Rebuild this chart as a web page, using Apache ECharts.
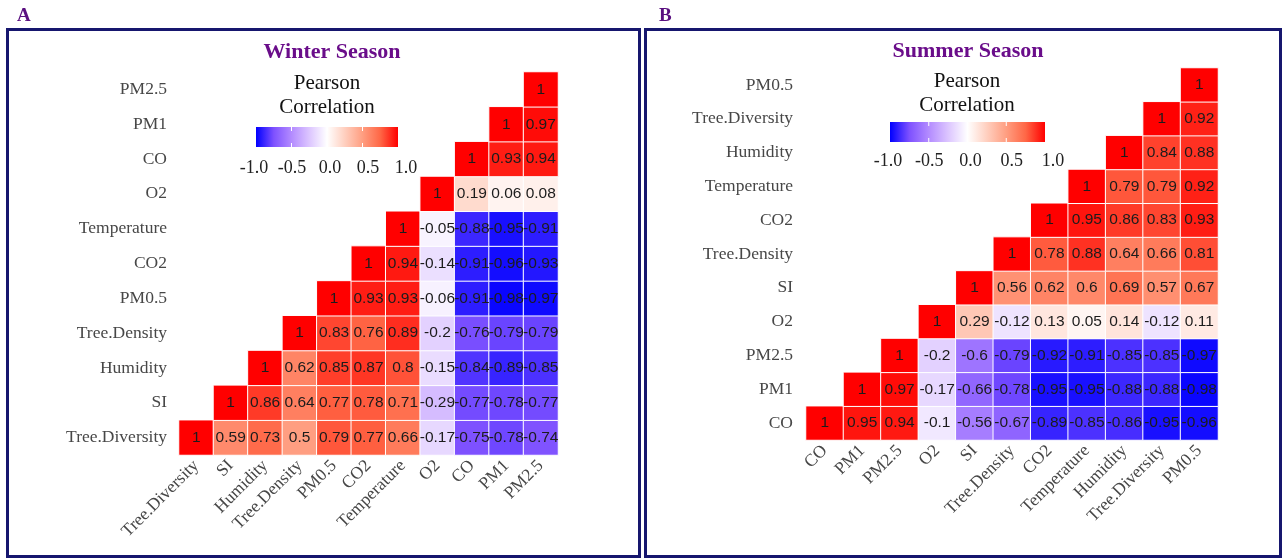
<!DOCTYPE html>
<html>
<head>
<meta charset="utf-8">
<script src="https://cdn.jsdelivr.net/npm/echarts@6/dist/echarts.min.js"></script>
<style>
  html, body { margin: 0; padding: 0; background: #fff; }
  #chart { width: 1285px; height: 560px; }
</style>
</head>
<body>
<div id="chart"></div>
<script>
// ---- data ----
// axis order, left to right on x and bottom to top on y
var winterVars = ['Tree.Diversity', 'SI', 'Humidity', 'Tree.Density', 'PM0.5', 'CO2',
  'Temperature', 'O2', 'CO', 'PM1', 'PM2.5']
// each row starts at its own diagonal cell
var winterRows = [
  [1, 0.59, 0.73, 0.5, 0.79, 0.77, 0.66, -0.17, -0.75, -0.78, -0.74],
  [1, 0.86, 0.64, 0.77, 0.78, 0.71, -0.29, -0.77, -0.78, -0.77],
  [1, 0.62, 0.85, 0.87, 0.8, -0.15, -0.84, -0.89, -0.85],
  [1, 0.83, 0.76, 0.89, -0.2, -0.76, -0.79, -0.79],
  [1, 0.93, 0.93, -0.06, -0.91, -0.98, -0.97],
  [1, 0.94, -0.14, -0.91, -0.96, -0.93],
  [1, -0.05, -0.88, -0.95, -0.91],
  [1, 0.19, 0.06, 0.08],
  [1, 0.93, 0.94],
  [1, 0.97],
  [1]
]

var summerVars = ['CO', 'PM1', 'PM2.5', 'O2', 'SI', 'Tree.Density', 'CO2', 'Temperature',
  'Humidity', 'Tree.Diversity', 'PM0.5']
var summerRows = [
  [1, 0.95, 0.94, -0.1, -0.56, -0.67, -0.89, -0.85, -0.86, -0.95, -0.96],
  [1, 0.97, -0.17, -0.66, -0.78, -0.95, -0.95, -0.88, -0.88, -0.98],
  [1, -0.2, -0.6, -0.79, -0.92, -0.91, -0.85, -0.85, -0.97],
  [1, 0.29, -0.12, 0.13, 0.05, 0.14, -0.12, 0.11],
  [1, 0.56, 0.62, 0.6, 0.69, 0.57, 0.67],
  [1, 0.78, 0.88, 0.64, 0.66, 0.81],
  [1, 0.95, 0.86, 0.83, 0.93],
  [1, 0.79, 0.79, 0.92],
  [1, 0.84, 0.88],
  [1, 0.92],
  [1]
]

var legendTicks = [-1, -0.5, 0, 0.5, 1]

// blue - white - red, mixed in Lab like ggplot's gradient2
var corrColors = ['#0000FF', '#7E51FF', '#B38BFF', '#DCC5FF', '#FFFFFF',
  '#FFCFBF', '#FF9E81', '#FF6746', '#FF0000']

var serif = "'Liberation Serif', 'Times New Roman', serif"
var sans = "'Liberation Sans', Arial, sans-serif"

function toCells(rows) {
  var out = []
  rows.forEach(function(row, y) {
    row.forEach(function(v, k) {
      out.push([y + k, y, v])
    })
  })
  return out
}

function axisPair(vars, gridIndex, yMargin) {
  var label = { fontFamily: serif, fontSize: 17.5, color: '#474747' }
  return {
    x: {
      type: 'category', data: vars, gridIndex: gridIndex,
      axisLine: { show: false }, axisTick: { show: false }, splitLine: { show: false },
      axisLabel: Object.assign({ rotate: 45, margin: 8, interval: 0 }, label)
    },
    y: {
      type: 'category', data: vars, gridIndex: gridIndex,
      axisLine: { show: false }, axisTick: { show: false }, splitLine: { show: false },
      axisLabel: Object.assign({ margin: yMargin, interval: 0 }, label)
    }
  }
}

function heatSeries(rows, idx) {
  return {
    type: 'heatmap',
    xAxisIndex: idx, yAxisIndex: idx,
    data: toCells(rows),
    itemStyle: { borderColor: '#ffffff', borderWidth: 1 },
    label: {
      show: true, fontFamily: sans, fontSize: 15.5, color: '#1c1c1c',
      formatter: function(p) { return p.value[2] }
    },
    emphasis: { disabled: true }
  }
}

// colour bar legend: gradient bar, white ticks and labels
function colorBar(cx, titleY, x0, y0, w, h, labelY) {
  var els = []
  els.push({
    type: 'text', x: cx, y: titleY,
    style: { text: 'Pearson\nCorrelation', font: '21px ' + serif, fill: '#111',
      textAlign: 'center', lineHeight: 24 }
  })
  els.push({
    type: 'rect', shape: { x: x0, y: y0, width: w, height: h },
    style: { fill: new echarts.graphic.LinearGradient(0, 0, 1, 0,
      corrColors.map(function(c, i) { return { offset: i / (corrColors.length - 1), color: c } })) }
  })
  legendTicks.forEach(function(t) {
    var x = x0 + (t + 1) / 2 * w
    if (t > -1 && t < 1) {
      els.push({ type: 'line', shape: { x1: x, y1: y0, x2: x, y2: y0 + 4 }, style: { stroke: '#fff', lineWidth: 1 } })
      els.push({ type: 'line', shape: { x1: x, y1: y0 + h - 4, x2: x, y2: y0 + h }, style: { stroke: '#fff', lineWidth: 1 } })
    }
    els.push({
      type: 'text', x: x + 3 + t * 5, y: labelY,
      style: { text: t.toFixed(1), font: '18px ' + serif, fill: '#222',
        textAlign: 'center', textVerticalAlign: 'middle' }
    })
  })
  return els
}

var chart = echarts.init(document.getElementById('chart'))
var ax0 = axisPair(winterVars, 0, 12)
var ax1 = axisPair(summerVars, 1, 13)

var graphics = [
  { type: 'rect', shape: { x: 7.5, y: 29.5, width: 632, height: 527 },
    style: { fill: 'none', stroke: '#16166e', lineWidth: 3 } },
  { type: 'rect', shape: { x: 645.5, y: 29.5, width: 635, height: 527 },
    style: { fill: 'none', stroke: '#16166e', lineWidth: 3 } }
]
graphics = graphics.concat(colorBar(327, 71, 256, 127, 142, 20, 168))
graphics = graphics.concat(colorBar(967, 69, 890, 122, 155, 20, 161))

chart.setOption({
  animation: false,
  title: [
    { text: 'A', left: 12, top: 2, textStyle: { fontFamily: serif, fontSize: 19, fontWeight: 'bold', color: '#5a1080' } },
    { text: 'B', left: 654, top: 2, textStyle: { fontFamily: serif, fontSize: 19, fontWeight: 'bold', color: '#5a1080' } },
    { text: 'Winter Season', left: 327, top: 36, textAlign: 'center',
      textStyle: { fontFamily: serif, fontSize: 22, fontWeight: 'bold', color: '#6a0d8a' } },
    { text: 'Summer Season', left: 963, top: 35, textAlign: 'center',
      textStyle: { fontFamily: serif, fontSize: 22, fontWeight: 'bold', color: '#6a0d8a' } }
  ],
  grid: [
    { left: 179, top: 72, width: 379, height: 383 },
    { left: 806, top: 68, width: 412, height: 372 }
  ],
  xAxis: [ax0.x, ax1.x],
  yAxis: [ax0.y, ax1.y],
  visualMap: {
    show: false, type: 'continuous', min: -1, max: 1, dimension: 2,
    seriesIndex: [0, 1],
    inRange: { color: corrColors }
  },
  graphic: graphics,
  series: [heatSeries(winterRows, 0), heatSeries(summerRows, 1)]
})
</script>
</body>
</html>
